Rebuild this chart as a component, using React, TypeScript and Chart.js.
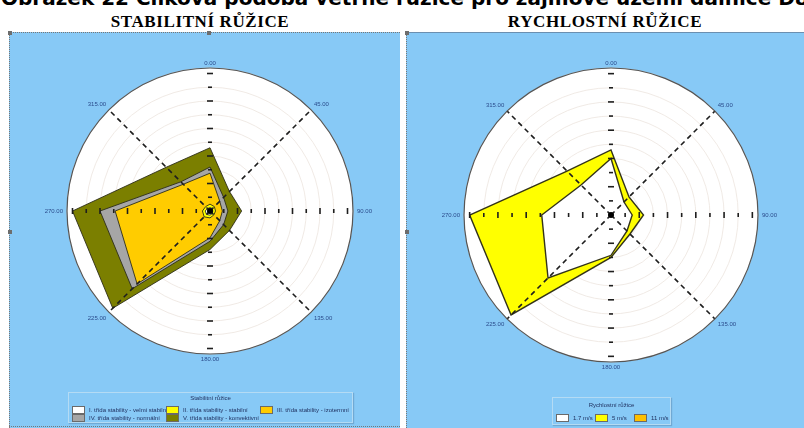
import React, { useEffect, useRef } from "react";
import { Chart, registerables } from "chart.js";

Chart.register(...registerables);

// ---------- data ----------
const directionLabels = ["0.00", "45.00", "90.00", "135.00", "180.00", "225.00", "270.00", "315.00"];
const ringSteps = [1, 2, 3, 4, 5, 6, 7, 8, 9, 10];
const scaleMax = 10.4;

const stabilityNames = [
  "I. třída stability - velmi stabilní",
  "II. třída stability - stabilní",
  "III. třída stability - izotermní",
  "IV. třída stability - normální",
  "V. třída stability - konvektivní",
];
const stabilityI = [0.25, 0.25, 0.2, 0.25, 0.3, 0.35, 0.35, 0.25];
const stabilityII = [0.5, 0.45, 0.4, 0.4, 0.5, 0.6, 0.55, 0.45];
const stabilityIII = [2.75, 1.0, 0.9, 1.0, 1.95, 7.5, 6.9, 2.75];
const stabilityIV = [3.2, 1.4, 1.3, 1.4, 2.2, 8.0, 8.0, 3.0];
const stabilityV = [4.6, 2.0, 2.3, 2.0, 2.8, 10.0, 10.0, 4.5];
const stabilityColors = ["#ffffff", "#ffff00", "#ffcc00", "#a6a6a6", "#7b7f00"];

const speedNames = ["1.7 m/s", "5 m/s", "11 m/s"];
const speed17 = [4.0, 1.3, 1.5, 1.6, 2.85, 6.3, 4.9, 3.0];
const speed5 = [4.6, 1.8, 2.3, 1.9, 3.0, 10.0, 10.0, 4.4];
const speed11 = [0.2, 0.2, 0.2, 0.2, 0.2, 0.2, 0.2, 0.2];
const speedColors = ["#ffffff", "#ffff00", "#ffc000"];

// ---------- decoration plugin ----------
const roseDecor = {
  id: "roseDecor",
  beforeDraw(chart: any) {
    const s = chart.scales.r;
    const ctx = chart.ctx;
    ctx.save();
    ctx.beginPath();
    ctx.arc(s.xCenter, s.yCenter, s.drawingArea, 0, Math.PI * 2);
    ctx.fillStyle = "#ffffff";
    ctx.fill();
    ctx.restore();
  },
  afterDatasetsDraw(chart: any) {
    const s = chart.scales.r;
    const ctx = chart.ctx;
    const n = chart.data.labels.length;
    ctx.save();
    // dashed diagonal axes
    ctx.setLineDash([5, 4]);
    ctx.strokeStyle = "#1e1e1e";
    ctx.lineWidth = 1.6;
    for (let i = 1; i < n; i += 2) {
      const p = s.getPointPosition(i, s.drawingArea);
      ctx.beginPath();
      ctx.moveTo(s.xCenter, s.yCenter);
      ctx.lineTo(p.x, p.y);
      ctx.stroke();
    }
    ctx.setLineDash([]);
    // tick marks along the main axes
    ctx.lineWidth = 1.6;
    for (let i = 0; i < n; i += 2) {
      const a = s.getIndexAngle(i) - Math.PI / 2;
      const c = Math.cos(a);
      const sn = Math.sin(a);
      ringSteps.forEach((k) => {
        const r = s.getDistanceFromCenterForValue(k);
        const x = s.xCenter + c * r;
        const y = s.yCenter + sn * r;
        const h = k % 2 === 0 ? 3 : 2;
        ctx.beginPath();
        ctx.moveTo(x - sn * h, y + c * h);
        ctx.lineTo(x + sn * h, y - c * h);
        ctx.stroke();
      });
    }
    // centre dot
    ctx.beginPath();
    ctx.arc(s.xCenter, s.yCenter, 3, 0, Math.PI * 2);
    ctx.fillStyle = "#000";
    ctx.fill();
    // outer circle
    ctx.beginPath();
    ctx.arc(s.xCenter, s.yCenter, s.drawingArea, 0, Math.PI * 2);
    ctx.strokeStyle = "#555";
    ctx.lineWidth = 1.2;
    ctx.stroke();
    // direction labels
    ctx.font = '6px "Liberation Sans", Arial, sans-serif';
    ctx.fillStyle = "#2b4c8c";
    for (let i = 0; i < n; i++) {
      const a = s.getIndexAngle(i) - Math.PI / 2;
      const c = Math.cos(a);
      const sn = Math.sin(a);
      const off = Math.abs(c) < 0.1 ? 2 : 4;
      const p = s.getPointPosition(i, s.drawingArea + off);
      ctx.textAlign = Math.abs(c) < 0.1 ? "center" : c > 0 ? "left" : "right";
      ctx.textBaseline = Math.abs(sn) < 0.1 ? "middle" : sn < 0 ? "bottom" : "top";
      ctx.fillText(chart.data.labels[i], p.x, p.y);
    }
    ctx.restore();
  },
};

type DS = { name: string; data: number[]; color: string };

function RoseChart(props: {
  width: number;
  height: number;
  padding: { left: number; right: number; top: number; bottom: number };
  series: DS[];
  borderColor: string;
  borderWidth: number;
}) {
  const ref = useRef<HTMLCanvasElement | null>(null);
  useEffect(() => {
    if (!ref.current) return;
    const chart = new Chart(ref.current, {
      type: "radar",
      data: {
        labels: directionLabels,
        datasets: props.series.map((s) => ({
          label: s.name,
          data: s.data,
          backgroundColor: s.color,
          borderColor: props.borderColor,
          borderWidth: props.borderWidth,
          fill: true,
          pointRadius: 0,
          tension: 0,
        })),
      },
      options: {
        responsive: false,
        animation: false,
        events: [],
        layout: { padding: props.padding },
        plugins: { legend: { display: false }, tooltip: { enabled: false } },
        scales: {
          r: {
            min: 0,
            max: scaleMax,
            ticks: { display: false, stepSize: 1 },
            grid: { circular: true, color: "#ece4de", lineWidth: 0.8 },
            angleLines: { display: false },
            pointLabels: { display: false },
          },
        },
      },
      plugins: [roseDecor],
    } as any);
    return () => chart.destroy();
  }, []);
  return (
    <canvas
      ref={ref}
      width={props.width}
      height={props.height}
      style={{ position: "absolute", left: 0, top: 0, width: props.width, height: props.height }}
    />
  );
}

const legendText: React.CSSProperties = {
  font: '6px "Liberation Sans", Arial, sans-serif',
  color: "#1d2d5c",
  whiteSpace: "nowrap",
  lineHeight: "8px",
};

function LegendItem({ name, color }: { name: string; color: string }) {
  return (
    <div style={{ display: "flex", alignItems: "center", height: 8 }}>
      <div
        style={{
          width: 11,
          height: 6,
          background: color,
          border: "1px solid #6a6a6a",
          marginRight: 4,
          flex: "none",
        }}
      />
      <span style={legendText}>{name}</span>
    </div>
  );
}

function Legend(props: {
  left: number;
  top: number;
  width: number;
  height: number;
  title: string;
  names: string[];
  colors: string[];
  colWidth: number;
  cols: number;
  titleTop: number;
  itemsTop: number;
}) {
  return (
    <div
      style={{
        position: "absolute",
        left: props.left,
        top: props.top,
        width: props.width,
        height: props.height,
        border: "1px solid #b4dbf4",
        boxShadow: "1px 1px 1px rgba(70,110,150,0.35)",
        boxSizing: "border-box",
      }}
    >
      <div style={{ ...legendText, position: "absolute", left: 0, right: 0, top: props.titleTop, textAlign: "center" }}>
        {props.title}
      </div>
      <div
        style={{
          position: "absolute",
          left: 3,
          top: props.itemsTop,
          display: "grid",
          gridTemplateColumns: `repeat(${props.cols}, ${props.colWidth}px)`,
          rowGap: 0,
        }}
      >
        {props.names.map((n, i) => (
          <LegendItem key={n} name={n} color={props.colors[i]} />
        ))}
      </div>
    </div>
  );
}

const PANEL_BG = "#87c9f6";

function Handle({ x, y }: { x: number; y: number }) {
  return <div style={{ position: "absolute", left: x, top: y, width: 4, height: 4, background: "#6d6d6d" }} />;
}

export default function App() {
  const stabilitySeries: DS[] = [
    { name: stabilityNames[0], data: stabilityI, color: stabilityColors[0] },
    { name: stabilityNames[1], data: stabilityII, color: stabilityColors[1] },
    { name: stabilityNames[2], data: stabilityIII, color: stabilityColors[2] },
    { name: stabilityNames[3], data: stabilityIV, color: stabilityColors[3] },
    { name: stabilityNames[4], data: stabilityV, color: stabilityColors[4] },
  ];
  const speedSeries: DS[] = [
    { name: speedNames[0], data: speed17, color: speedColors[0] },
    { name: speedNames[1], data: speed5, color: speedColors[1] },
    { name: speedNames[2], data: speed11, color: speedColors[2] },
  ];
  return (
    <div
      style={{
        position: "fixed",
        left: 0,
        top: 0,
        width: 804,
        height: 428,
        overflow: "hidden",
        background: "#ffffff",
      }}
    >
      <div
        style={{
          position: "absolute",
          left: 1,
          top: -12,
          whiteSpace: "nowrap",
          font: 'bold 20px/20px "DejaVu Sans", Verdana, sans-serif',
          color: "#000",
        }}
      >
        Obrázek 22 Cílková podoba větrné růžice pro zájmové území dálnice D8
      </div>
      <div
        style={{
          position: "absolute",
          left: 0,
          width: 400,
          top: 13,
          textAlign: "center",
          font: 'bold 17px/17px "Liberation Serif", "Times New Roman", serif',
          letterSpacing: 0.6,
          color: "#000",
        }}
      >
        STABILITNÍ RŮŽICE
      </div>
      <div
        style={{
          position: "absolute",
          left: 406,
          width: 398,
          top: 13,
          textAlign: "center",
          font: 'bold 17px/17px "Liberation Serif", "Times New Roman", serif',
          letterSpacing: 0.6,
          color: "#000",
        }}
      >
        RYCHLOSTNÍ RŮŽICE
      </div>

      {/* left panel */}
      <div style={{ position: "absolute", left: 9, top: 32, width: 391, height: 396, background: PANEL_BG }}>
        <RoseChart
          width={391}
          height={396}
          padding={{ left: 58, right: 47, top: 36, bottom: 73 }}
          series={stabilitySeries}
          borderColor="rgba(45,45,25,0.9)"
          borderWidth={1}
        />
        <Legend
          left={59}
          top={360}
          width={285}
          height={31}
          title="Stabilitní růžice"
          names={stabilityNames}
          colors={stabilityColors}
          colWidth={94}
          cols={3}
          titleTop={1}
          itemsTop={13}
        />
        <div style={{ position: "absolute", left: 0, top: 0, width: 391, height: 0, borderTop: "1px dotted #777" }} />
        <div style={{ position: "absolute", left: 0, top: 0, width: 0, height: 396, borderLeft: "1px dotted #777" }} />
        <div style={{ position: "absolute", left: 0, top: 394, width: 391, height: 0, borderTop: "1px dotted #777" }} />
      </div>
      <Handle x={8} y={31} />
      <Handle x={207} y={31} />
      <Handle x={8} y={230} />

      {/* right panel */}
      <div style={{ position: "absolute", left: 406, top: 32, width: 398, height: 396, background: PANEL_BG }}>
        <RoseChart
          width={398}
          height={396}
          padding={{ left: 58, right: 46, top: 36, bottom: 65 }}
          series={speedSeries}
          borderColor="rgba(40,40,20,0.95)"
          borderWidth={1.4}
        />
        <Legend
          left={146}
          top={365}
          width={119}
          height={28}
          title="Rychlostní růžice"
          names={speedNames}
          colors={speedColors}
          colWidth={39}
          cols={3}
          titleTop={3}
          itemsTop={16}
        />
        <div style={{ position: "absolute", left: 0, top: 0, width: 398, height: 0, borderTop: "1px solid #6b8fb0" }} />
        <div style={{ position: "absolute", left: 0, top: 0, width: 0, height: 396, borderLeft: "1px dotted #777" }} />
      </div>
      <Handle x={405} y={31} />
      <Handle x={405} y={230} />
    </div>
  );
}
